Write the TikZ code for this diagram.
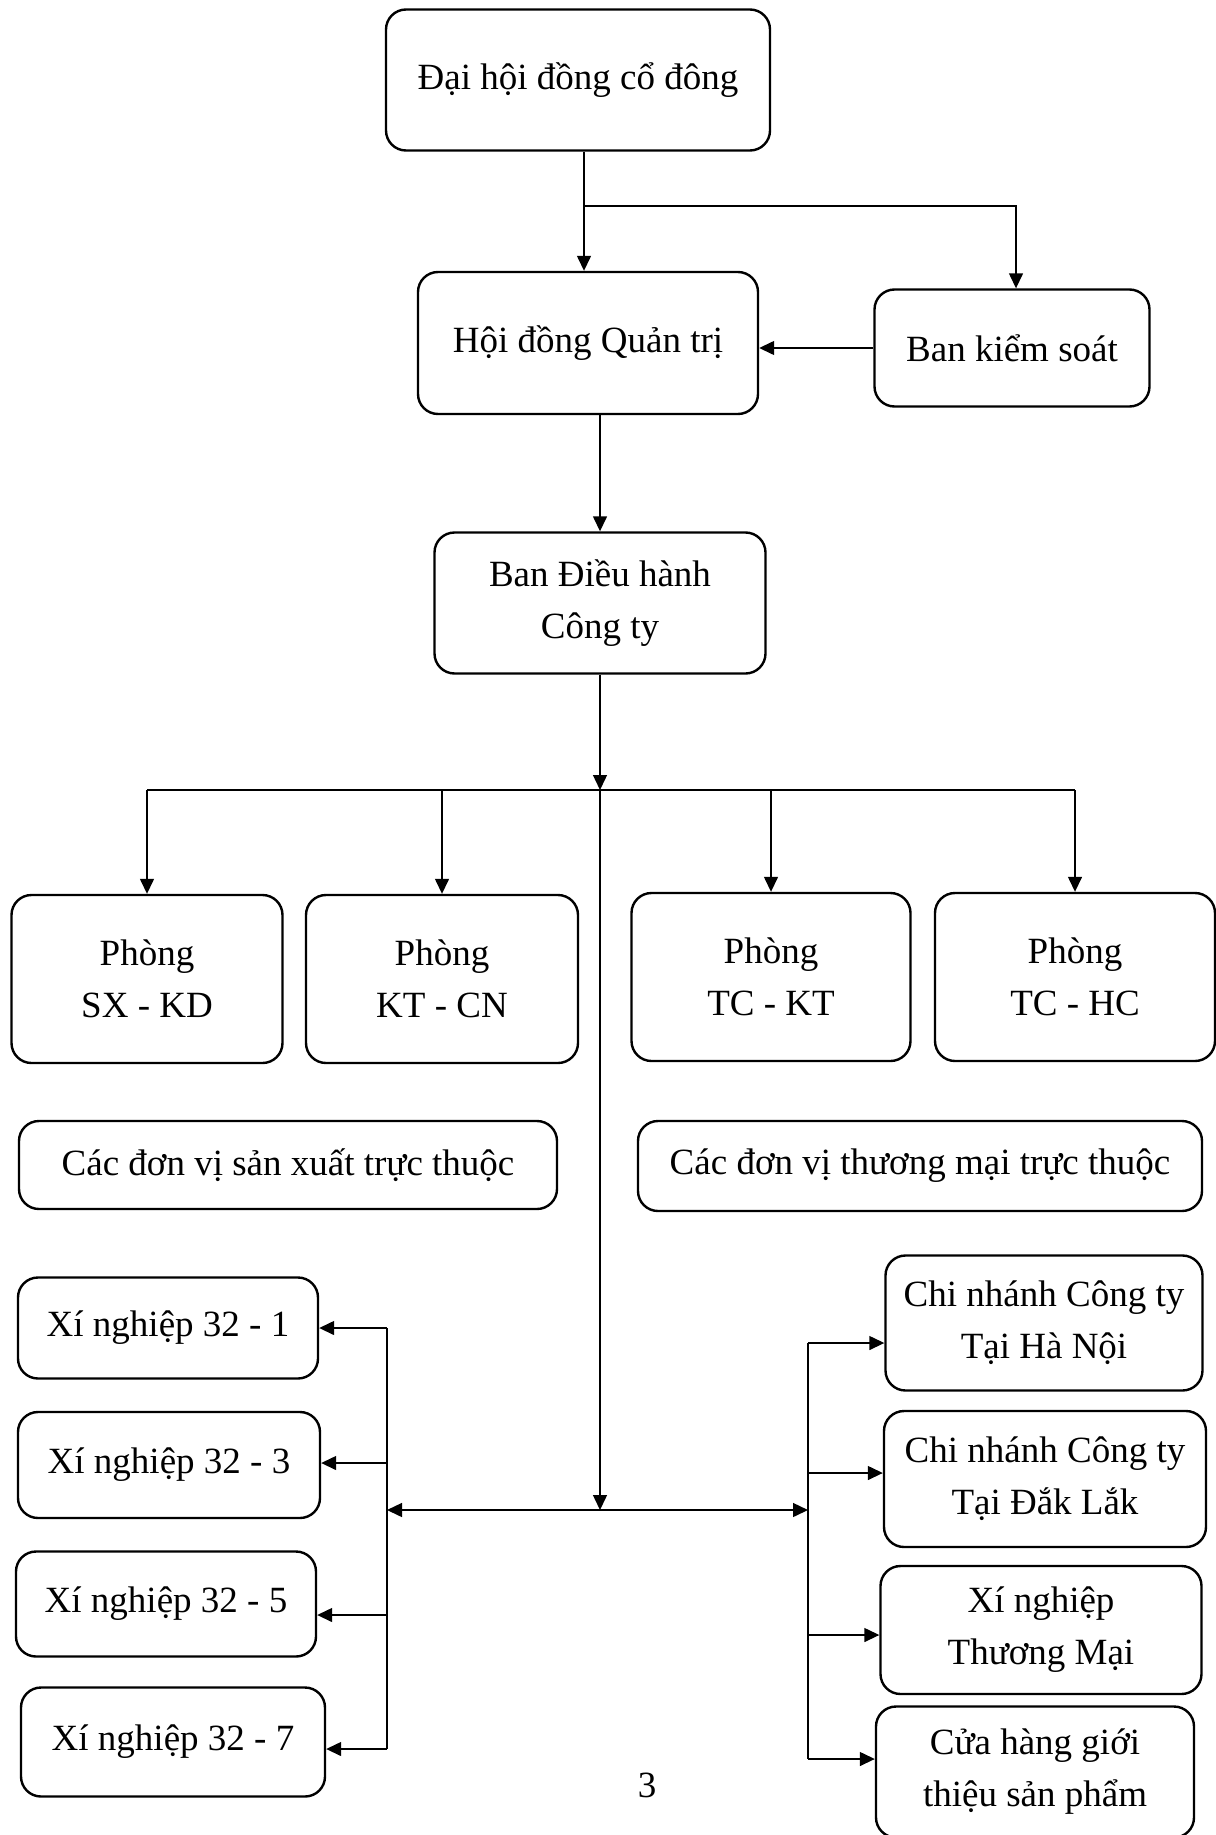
\documentclass[tikz,border=0pt]{standalone}
\usepackage{fontspec}
\setmainfont{Liberation Serif}
\usepackage{tikz}
\usetikzlibrary{arrows.meta, positioning, calc}
\tikzstyle{box} = [rectangle, rounded corners=10pt, draw=black, line width=1.2pt, align=center, text centered, font=\fontsize{18.5}{26}\selectfont, inner sep=2pt]
\tikzstyle{arrow} = [line width=0.7pt, -{Triangle[length=7.5pt,width=7pt]}]
\tikzstyle{line} = [line width=0.7pt]

\begin{document}
\begin{tikzpicture}[x=0.5pt, y=-0.5pt]
    \useasboundingbox (0,0) rectangle (1215,1835);

    % Main components
    \node (dhdcd) [box, minimum width=192pt, minimum height=70.5pt] at (578,80) {Đại hội đồng cổ đông};
    \node (hdqt) [box, minimum width=170pt, minimum height=71pt] at (588,343) {Hội đồng Quản trị};
    \node (bks) [box, minimum width=137.5pt, minimum height=58.5pt] at (1012,348) {Ban kiểm soát};
    \node (bdh) [box, minimum width=165.5pt, minimum height=70.5pt] at (600,603) {Ban Điều hành\\Công ty};

    % Departments
    \node (sxkd) [box, minimum width=135.5pt, minimum height=84pt] at (147,979) {Phòng\\SX - KD};
    \node (ktcn) [box, minimum width=136pt, minimum height=84pt] at (442,979) {Phòng\\KT - CN};
    \node (tckt) [box, minimum width=139.5pt, minimum height=84pt] at (771,977) {Phòng\\TC - KT};
    \node (tchc) [box, minimum width=140pt, minimum height=84pt] at (1075,977) {Phòng\\TC - HC};

    % Groups
    \node (dvsx) [box, minimum width=269pt, minimum height=44pt] at (288,1165) {Các đơn vị sản xuất trực thuộc};
    \node (dvtm) [box, minimum width=282pt, minimum height=45pt] at (920,1166) {Các đơn vị thương mại trực thuộc};

    % Production units
    \node (xn1) [box, minimum width=150pt, minimum height=50.5pt] at (168,1328) {Xí nghiệp 32 - 1};
    \node (xn3) [box, minimum width=151pt, minimum height=53pt] at (169,1465) {Xí nghiệp 32 - 3};
    \node (xn5) [box, minimum width=150pt, minimum height=52.5pt] at (166,1604) {Xí nghiệp 32 - 5};
    \node (xn7) [box, minimum width=152pt, minimum height=54.5pt] at (173,1742) {Xí nghiệp 32 - 7};

    % Trade units
    \node (cnhn) [box, minimum width=158.5pt, minimum height=67.5pt] at (1044,1323) {Chi nhánh Công ty\\Tại Hà Nội};
    \node (cndl) [box, minimum width=161pt, minimum height=68pt] at (1045,1479) {Chi nhánh Công ty\\Tại Đắk Lắk};
    \node (xntm) [box, minimum width=160.5pt, minimum height=64pt] at (1041,1630) {Xí nghiệp\\Thương Mại};
    \node (chgt) [box, minimum width=159pt, minimum height=65.5pt] at (1035,1772) {Cửa hàng giới\\thiệu sản phẩm};

    \node (pg) [font=\fontsize{18.5}{26}\selectfont] at (647,1785) {3};

    % Junctions
    \coordinate (j1) at (584,206);
    \coordinate (bus) at (600,790);
    \coordinate (hub) at (600,1510);
    \coordinate (lbus) at (387,1510);
    \coordinate (rbus) at (808,1510);
    \coordinate (l1) at (387,1328);
    \coordinate (l2) at (387,1463);
    \coordinate (l3) at (387,1615);
    \coordinate (l4) at (387,1749);
    \coordinate (r1) at (808,1343);
    \coordinate (r2) at (808,1473);
    \coordinate (r3) at (808,1635);
    \coordinate (r4) at (808,1759);

    % Dependencies
    \draw [arrow] (dhdcd.south -| j1) -- (hdqt.north -| j1);
    \draw [arrow] (j1) -| ([xshift=2pt]bks.north);
    \draw [arrow] (bks.west) -- (bks.west -| hdqt.east);
    \draw [arrow] (hdqt.south -| bdh.north) -- (bdh.north);
    \draw [arrow] (bdh.south) -- (bus);
    \draw [line] (sxkd.north |- bus) -- (tchc.north |- bus);
    \foreach \n in {sxkd, ktcn, tckt, tchc}
        \draw [arrow] (\n.north |- bus) -- (\n.north);
    \draw [arrow] (bus) -- (hub);
    \draw [arrow] (hub) -- (lbus);
    \draw [arrow] (hub) -- (rbus);

    % Left branch
    \draw [line] (l1) -- (l4);
    \draw [arrow] (l1) -- (l1 -| xn1.east);
    \draw [arrow] (l2) -- (l2 -| xn3.east);
    \draw [arrow] (l3) -- (l3 -| xn5.east);
    \draw [arrow] (l4) -- (l4 -| xn7.east);

    % Right branch
    \draw [line] (r1) -- (r4);
    \draw [arrow] (r1) -- (r1 -| cnhn.west);
    \draw [arrow] (r2) -- (r2 -| cndl.west);
    \draw [arrow] (r3) -- (r3 -| xntm.west);
    \draw [arrow] (r4) -- (r4 -| chgt.west);
\end{tikzpicture}
\end{document}
